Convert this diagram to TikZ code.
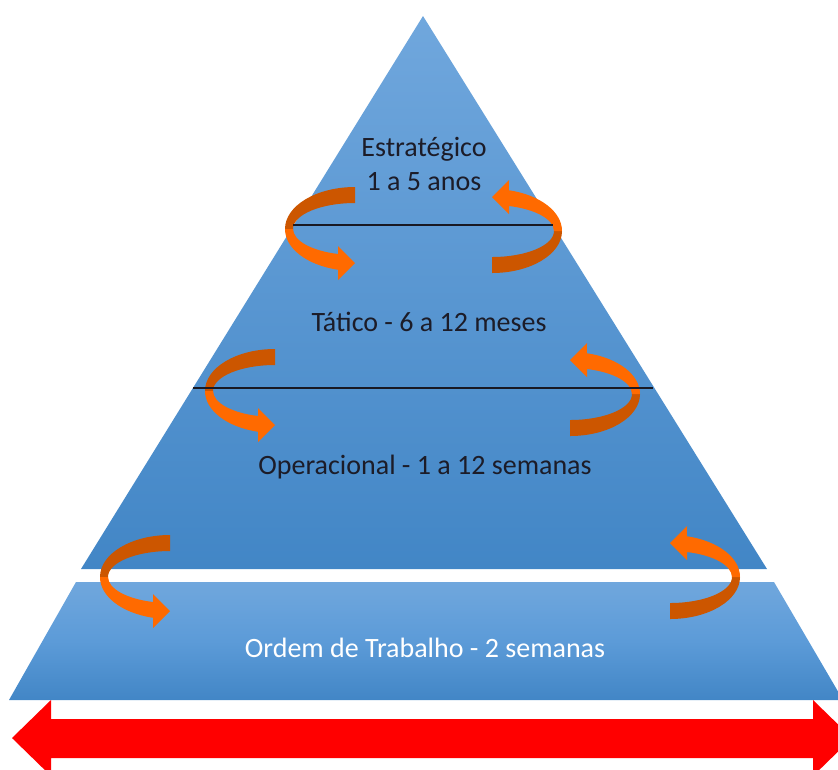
\documentclass[tikz,border=0pt]{standalone}
\usepackage{fontspec}
\setmainfont{Carlito}
\definecolor{oraL}{RGB}{255,106,0}
\definecolor{oraD}{RGB}{204,86,0}
\definecolor{pyrT}{RGB}{112,167,221}
\definecolor{pyrB}{RGB}{66,134,198}
\definecolor{pyrM}{RGB}{92,155,216}
\definecolor{txtC}{RGB}{28,28,40}
\definecolor{lineC}{RGB}{25,25,35}
\tikzset{
  lbl/.style={font=\fontsize{21}{25}\selectfont, text=txtC, anchor=base, inner sep=0pt},
  divider/.style={line width=1.1pt, draw=lineC},
  ribbonpic/.pic={
    \fill[oraD] (0,-42) arc[start angle=270, end angle=180, x radius=70, y radius=42]
      -- (-62,0) arc[start angle=180, end angle=270, x radius=62, y radius=26] -- cycle;
    \fill[oraL] (-70,0) arc[start angle=180, end angle=104, x radius=70, y radius=42]
      -- (-17,51) -- (0,34) -- (-17,17) -- (-17,25)
      arc[start angle=106, end angle=180, x radius=62, y radius=26] -- cycle;
  }
}
\begin{document}
\begin{tikzpicture}[x=0.75pt,y=-0.75pt]
\useasboundingbox (0,0) rectangle (838,769);
\begin{scope}
\clip (0,0) rectangle (838,769);
% upper pyramid
\path[top color=pyrT, bottom color=pyrB] (423,16) -- (767,569) -- (81,569) -- cycle;
% lower trapezoid
\path[top color=pyrT, bottom color=pyrB, middle color=pyrM] (76,582) -- (774,582) -- (843,700) -- (9,700) -- cycle;
% red double arrow
\fill[red] (12,738) -- (51,700) -- (51,719) -- (813,719) -- (813,700) -- (852,738) -- (813,776) -- (813,758) -- (51,758) -- (51,776) -- cycle;
\end{scope}

% orange ribbons
\pic at (355,229) {ribbonpic};
\pic[rotate=180] at (492,231) {ribbonpic};
\pic at (275,391) {ribbonpic};
\pic[rotate=180] at (570,394) {ribbonpic};
\pic at (170,577) {ribbonpic};
\pic[rotate=180] at (670,577) {ribbonpic};

% dividers
\draw[divider] (293,225) -- (553,225);
\draw[divider] (193,388) -- (653,388);

% labels
\node[lbl] (estr) at (424,156) {Estratégico};
\node[lbl] (anos) at (424,190) {1 a 5 anos};
\node[lbl] (tat) at (429,331) {Tático - 6 a 12 meses};
\node[lbl] (oper) at (425,474) {Operacional - 1 a 12 semanas};
\node[lbl, text=white] (ord) at (425,657) {Ordem de Trabalho - 2 semanas};
\end{tikzpicture}
\end{document}
